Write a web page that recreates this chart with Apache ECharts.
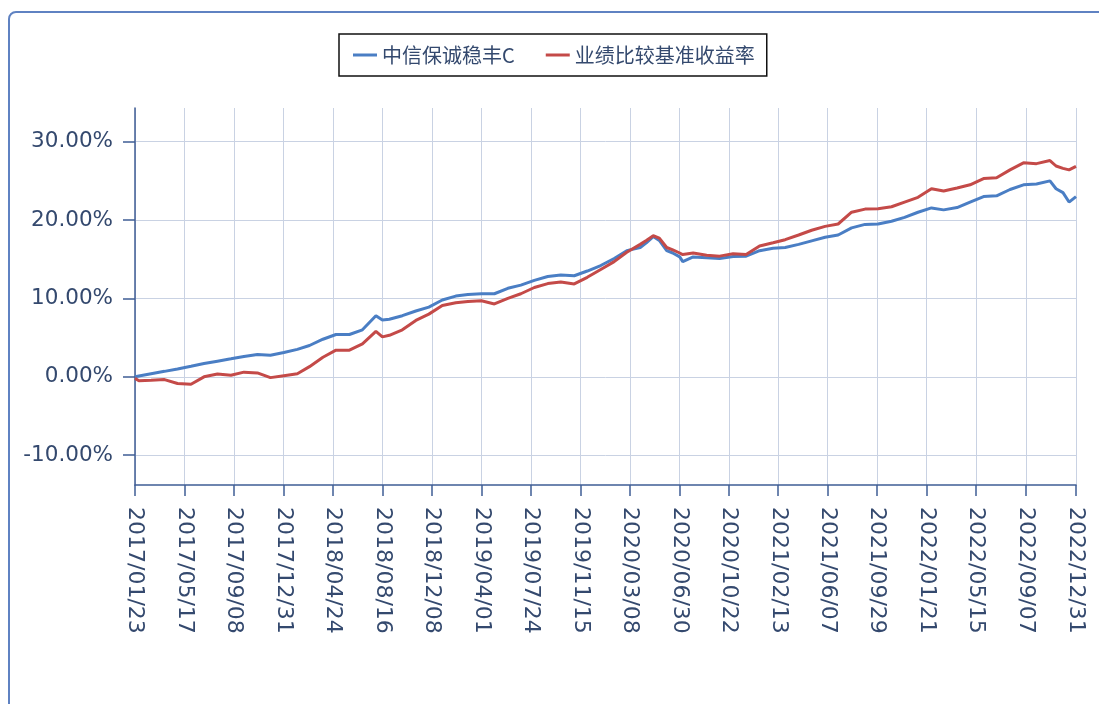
<!DOCTYPE html>
<html lang="zh">
<head>
    <meta charset="UTF-8">
    <title>中信保诚稳丰C</title>
    <script src="https://cdn.jsdelivr.net/npm/echarts@6/dist/echarts.min.js"></script>
    <style>
        body {
            margin: 0;
            padding: 0;
            background-color: #fff;
            overflow: hidden;
        }
        #frame {
            position: absolute;
            left: 8px;
            top: 11px;
            width: 1200px;
            height: 900px;
            border: 2px solid #5f82c2;
            border-radius: 8px;
            pointer-events: none;
        }
        #chart {
            position: absolute;
            left: 0;
            top: 0;
            width: 1099px;
            height: 704px;
        }
    </style>
</head>
<body>
    <div id="chart"></div>
    <div id="frame"></div>

    <script>
        // 横轴刻度标签
        var tickLabels = [
            '2017/01/23', '2017/05/17', '2017/09/08', '2017/12/31', '2018/04/24',
            '2018/08/16', '2018/12/08', '2019/04/01', '2019/07/24', '2019/11/15',
            '2020/03/08', '2020/06/30', '2020/10/22', '2021/02/13', '2021/06/07',
            '2021/09/29', '2022/01/21', '2022/05/15', '2022/09/07', '2022/12/31'
        ];
        var yTicks = [-10, 0, 10, 20, 30];

        // 采样日期
        var dates = [
            '2017-01-23', '2017-02-01', '2017-03-01', '2017-04-01', '2017-05-01', '2017-06-01',
            '2017-07-01', '2017-08-01', '2017-09-01', '2017-10-01', '2017-11-01', '2017-12-01',
            '2018-01-01', '2018-02-01', '2018-03-01', '2018-04-01', '2018-05-01', '2018-06-01',
            '2018-07-01', '2018-08-01', '2018-08-16', '2018-09-01', '2018-10-01', '2018-11-01', '2018-12-01',
            '2019-01-01', '2019-02-01', '2019-03-01', '2019-04-01', '2019-05-01', '2019-06-01',
            '2019-07-01', '2019-08-01', '2019-09-01', '2019-10-01', '2019-11-01', '2019-12-01',
            '2020-01-01', '2020-02-01', '2020-03-01', '2020-04-01', '2020-04-15', '2020-05-01',
            '2020-05-15', '2020-06-01', '2020-06-15', '2020-07-01', '2020-07-08', '2020-08-01',
            '2020-09-01', '2020-10-01', '2020-11-01', '2020-12-01',
            '2021-01-01', '2021-02-01', '2021-03-01', '2021-04-01', '2021-05-01', '2021-06-01',
            '2021-07-01', '2021-08-01', '2021-09-01', '2021-10-01', '2021-11-01', '2021-12-01',
            '2022-01-01', '2022-02-01', '2022-03-01', '2022-04-01', '2022-05-01', '2022-06-01',
            '2022-07-01', '2022-08-01', '2022-09-01', '2022-10-01', '2022-11-01', '2022-11-15',
            '2022-12-01', '2022-12-15', '2022-12-31'
        ];

        // 中信保诚稳丰C 累计收益(%)
        var fundValues = [
            0.0, 0.1, 0.4, 0.7, 1.0, 1.35,
            1.7, 2.0, 2.3, 2.6, 2.85, 2.75,
            3.1, 3.5, 4.0, 4.8, 5.4, 5.4,
            6.0, 7.8, 7.25, 7.35, 7.8, 8.4, 8.9,
            9.8, 10.3, 10.5, 10.6, 10.6, 11.3,
            11.7, 12.3, 12.8, 13.0, 12.9, 13.5,
            14.2, 15.1, 16.1, 16.5, 17.1, 17.9,
            17.4, 16.1, 15.8, 15.3, 14.7, 15.3,
            15.2, 15.1, 15.35, 15.4,
            16.1, 16.4, 16.5, 16.9, 17.35, 17.8,
            18.1, 19.0, 19.45, 19.5, 19.85, 20.35,
            21.0, 21.55, 21.3, 21.6, 22.3, 23.0,
            23.1, 23.9, 24.5, 24.6, 25.0, 24.0,
            23.5, 22.3, 23.0
        ];

        // 业绩比较基准收益率(%)
        var benchValues = [
            -0.2, -0.5, -0.45, -0.35, -0.85, -0.95,
            0.0, 0.35, 0.2, 0.6, 0.5, -0.1,
            0.15, 0.4, 1.3, 2.5, 3.4, 3.4,
            4.2, 5.8, 5.1, 5.3, 6.0, 7.2, 8.0,
            9.1, 9.45, 9.6, 9.7, 9.3, 10.0,
            10.6, 11.4, 11.9, 12.1, 11.85, 12.7,
            13.7, 14.7, 15.9, 16.9, 17.4, 18.0,
            17.7, 16.5, 16.2, 15.8, 15.6, 15.8,
            15.5, 15.4, 15.7, 15.6,
            16.7, 17.1, 17.5, 18.1, 18.7, 19.2,
            19.5, 21.0, 21.4, 21.45, 21.7, 22.3,
            22.9, 24.0, 23.7, 24.1, 24.5, 25.3,
            25.4, 26.4, 27.3, 27.2, 27.6, 26.9,
            26.6, 26.4, 26.85
        ];

        function toTime(s) {
            var p = s.split(/[\/-]/);
            return new Date(+p[0], +p[1] - 1, +p[2]).getTime();
        }

        function pairs(vals) {
            return dates.map(function (d, i) { return [toTime(d), vals[i]]; });
        }

        function fmtDate(v) {
            var d = new Date(v);
            var m = d.getMonth() + 1, day = d.getDate();
            return d.getFullYear() + '/' + (m < 10 ? '0' + m : m) + '/' + (day < 10 ? '0' + day : day);
        }

        var xTicks = tickLabels.map(toTime);
        var axisColor = '#3f5d95';
        var textColor = '#34496e';
        var gridColor = '#c9d2e3';

        var chart = echarts.init(document.getElementById('chart'));
        chart.setOption({
            animation: false,
            backgroundColor: '#fff',
            legend: {
                top: 34,
                left: 339,
                borderColor: '#111',
                borderWidth: 1.5,
                padding: [11, 12, 11, 14],
                itemGap: 31,
                itemWidth: 24,
                itemHeight: 3,
                icon: 'rect',
                textStyle: {
                    fontFamily: 'Noto Sans CJK SC',
                    fontSize: 20,
                    color: textColor
                },
                data: ['中信保诚稳丰C', '业绩比较基准收益率']
            },
            grid: {
                left: 135,
                right: 23,
                top: 108,
                bottom: 219,
                containLabel: false
            },
            xAxis: {
                type: 'value',
                min: xTicks[0],
                max: xTicks[xTicks.length - 1],
                axisLine: { onZero: false, lineStyle: { color: axisColor, width: 1.5 } },
                axisTick: {
                    show: true,
                    length: 11,
                    customValues: xTicks,
                    lineStyle: { color: axisColor, width: 1.5 }
                },
                axisLabel: {
                    customValues: xTicks,
                    rotate: -90,
                    margin: 22,
                    fontFamily: 'DejaVu Sans',
                    fontSize: 22,
                    color: textColor,
                    formatter: fmtDate
                },
                splitLine: { show: true, lineStyle: { color: gridColor, width: 1 } }
            },
            yAxis: {
                type: 'value',
                min: -13.8,
                max: 34.3,
                axisLine: { show: true, onZero: false, lineStyle: { color: axisColor, width: 1.5 } },
                axisTick: {
                    show: true,
                    length: 12,
                    customValues: yTicks,
                    lineStyle: { color: axisColor, width: 1.5 }
                },
                axisLabel: {
                    customValues: yTicks,
                    margin: 22,
                    fontFamily: 'DejaVu Sans',
                    fontSize: 21.5,
                    color: textColor,
                    formatter: function (v) { return v.toFixed(2) + '%'; }
                },
                splitLine: { show: true, lineStyle: { color: gridColor, width: 1 } }
            },
            series: [
                {
                    name: '中信保诚稳丰C',
                    type: 'line',
                    showSymbol: false,
                    data: pairs(fundValues),
                    itemStyle: { color: '#4a7ec4' },
                    lineStyle: { color: '#4a7ec4', width: 3 }
                },
                {
                    name: '业绩比较基准收益率',
                    type: 'line',
                    showSymbol: false,
                    data: pairs(benchValues),
                    itemStyle: { color: '#c44a48' },
                    lineStyle: { color: '#c44a48', width: 3 }
                }
            ]
        });
    </script>
</body>
</html>
